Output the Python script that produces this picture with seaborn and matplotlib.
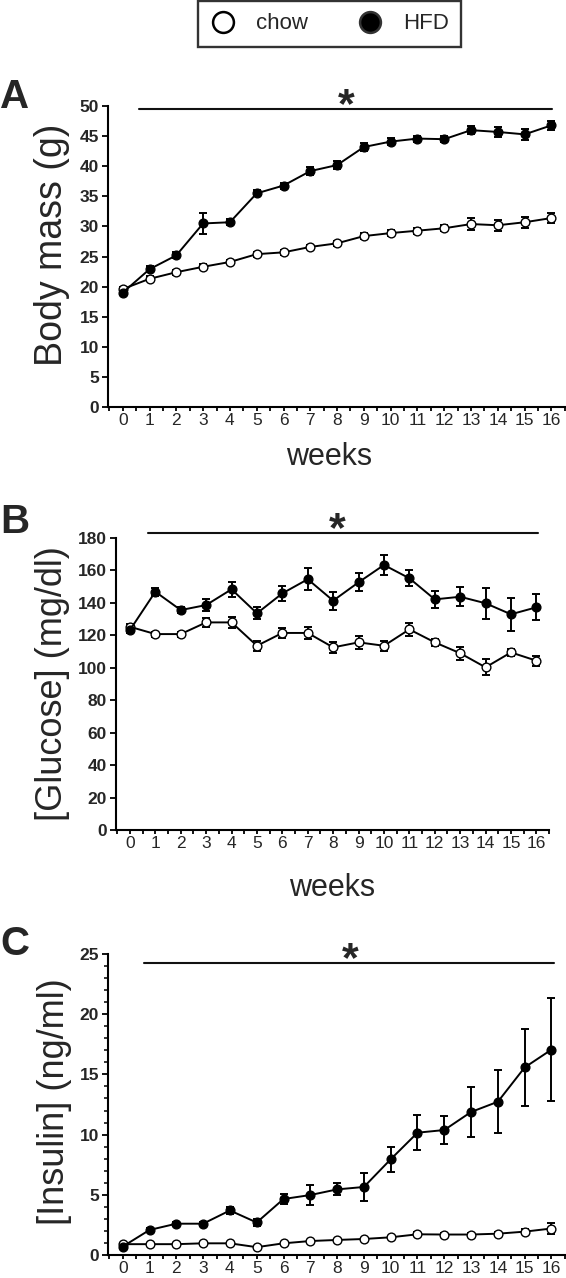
import numpy as np
import pandas as pd
import seaborn as sns
import matplotlib.pyplot as plt
from matplotlib.lines import Line2D

# weeks on diet
weeks = list(range(17))

# body mass (g), mean and SEM
mass_chow = [19.6, 21.3, 22.4, 23.3, 24.1, 25.4, 25.7, 26.6, 27.2, 28.4, 28.9, 29.3, 29.7, 30.4, 30.2, 30.7, 31.4]
mass_chow_sem = [0.4, 0.4, 0.4, 0.4, 0.4, 0.4, 0.4, 0.4, 0.4, 0.5, 0.5, 0.5, 0.5, 1.0, 0.9, 0.9, 0.9]
mass_hfd = [19.0, 22.9, 25.2, 30.5, 30.7, 35.5, 36.8, 39.2, 40.2, 43.2, 44.1, 44.6, 44.5, 46.0, 45.7, 45.3, 46.8]
mass_hfd_sem = [0.4, 0.5, 0.5, 1.8, 0.5, 0.5, 0.5, 0.6, 0.7, 0.7, 0.6, 0.5, 0.5, 0.7, 0.8, 0.9, 0.8]

# glucose (mg/dl)
glucose_chow = [125.3, 120.8, 120.8, 128.0, 128.0, 113.6, 121.5, 121.5, 112.6, 115.7, 113.6, 123.7, 115.7, 109.0, 100.3, 109.5, 104.4]
glucose_chow_sem = [2, 1.5, 1.5, 3, 3.5, 3, 3, 3.5, 3.5, 4, 3, 4, 2, 4, 5, 2, 3]
glucose_hfd = [123.3, 146.9, 135.6, 138.7, 148.4, 133.6, 145.9, 154.6, 141.4, 152.7, 163.4, 155.2, 142.2, 143.8, 139.8, 133.0, 137.3]
glucose_hfd_sem = [2, 2.5, 2, 3.5, 4.7, 3.7, 4.5, 6.8, 5.6, 5.6, 6.2, 4.9, 5.4, 5.75, 9.45, 10.1, 8.0]

# insulin (ng/ml)
insulin_chow = [0.9, 0.9, 0.9, 0.97, 0.97, 0.65, 0.97, 1.16, 1.25, 1.33, 1.47, 1.72, 1.7, 1.7, 1.77, 1.94, 2.2]
insulin_chow_sem = [0.1, 0.1, 0.1, 0.1, 0.1, 0.1, 0.1, 0.1, 0.1, 0.1, 0.1, 0.15, 0.1, 0.15, 0.15, 0.2, 0.45]
insulin_hfd = [0.7, 2.08, 2.6, 2.6, 3.7, 2.7, 4.65, 4.98, 5.45, 5.65, 7.95, 10.16, 10.38, 11.88, 12.73, 15.58, 17.06]
insulin_hfd_sem = [0.1, 0.2, 0.15, 0.15, 0.3, 0.25, 0.45, 0.83, 0.5, 1.13, 1.05, 1.45, 1.16, 2.1, 2.6, 3.23, 4.25]

mass_ticks = [0, 5, 10, 15, 20, 25, 30, 35, 40, 45, 50]
glucose_ticks = [0, 20, 40, 60, 80, 100, 120, 140, 160, 180]
insulin_ticks = [0, 5, 10, 15, 20, 25]

sns.set_style("ticks")
plt.rcParams['font.family'] = ['Liberation Sans', 'DejaVu Sans']

fig = plt.figure(figsize=(5.66, 12.78), dpi=100)


def panel(ax, chow, chow_sem, hfd, hfd_sem, yticks, ylabel, sig, star_x):
    df = pd.DataFrame({'week': weeks * 2,
                       'value': chow + hfd,
                       'group': ['chow'] * len(weeks) + ['HFD'] * len(weeks)})
    ax.errorbar(weeks, chow, yerr=chow_sem, fmt='none', ecolor='black',
                elinewidth=1.4, capsize=2.6, capthick=1.4, zorder=2)
    ax.errorbar(weeks, hfd, yerr=hfd_sem, fmt='none', ecolor='black',
                elinewidth=1.4, capsize=2.6, capthick=1.4, zorder=2)
    sns.lineplot(data=df[df.group == 'chow'], x='week', y='value', ax=ax,
                 color='black', linewidth=1.4, marker='o', markersize=6.3,
                 markerfacecolor='white', markeredgecolor='black',
                 markeredgewidth=1.0, zorder=3)
    sns.lineplot(data=df[df.group == 'HFD'], x='week', y='value', ax=ax,
                 color='black', linewidth=1.4, marker='o', markersize=6.3,
                 markerfacecolor='black', markeredgecolor='black',
                 markeredgewidth=1.0, zorder=4)
    ax.set_xlim(-0.55, 16.5)
    ax.set_ylim(yticks[0], yticks[-1])
    ax.set_xticks(weeks)
    ax.set_xticklabels([str(w) for w in weeks], fontsize=12.5)
    ax.set_xticks(np.arange(-0.5, 16.6, 1), minor=True)
    ax.set_yticks(yticks)
    ax.set_yticklabels([str(t) for t in yticks], fontsize=12.5, fontweight='bold')
    ax.tick_params(axis='x', which='both', length=3, width=1.3, pad=1.5, color='black')
    ax.tick_params(axis='y', which='major', length=4, width=1.3, pad=2.5, color='black')
    ax.tick_params(axis='y', which='minor', length=3, width=1.1, color='black')
    for s in ['left', 'bottom']:
        ax.spines[s].set_linewidth(1.5)
        ax.spines[s].set_color('black')
    sns.despine(ax=ax)
    ax.set_ylabel(ylabel, fontsize=26)
    ax.yaxis.label.set_va('center')
    ax.set_xlabel('')
    # significance bar
    ax.plot([sig[0], sig[1]], [sig[2], sig[2]], color='#111111', lw=1.5, clip_on=False)
    ax.annotate('*', xy=(star_x, sig[2]), xytext=(0, -5.7), textcoords='offset points',
                ha='center', va='baseline', fontsize=31, fontweight='bold',
                annotation_clip=False)


# A: body mass
axA = fig.add_axes([0.1908, 0.6815, 0.8072, 0.2355])
panel(axA, mass_chow, mass_chow_sem, mass_hfd, mass_hfd_sem, mass_ticks,
      'Body mass (g)', (0.6, 16.03, 49.5), 8.35)
axA.yaxis.label.set_fontsize(27)
axA.yaxis.set_label_coords(-0.1226, 0.538)
axA.set_xlabel('weeks', fontsize=22)
axA.xaxis.label.set_va('baseline')
axA.xaxis.set_label_coords(0.4848, -0.1927)

# B: glucose
axB = fig.add_axes([0.2049, 0.3505, 0.7652, 0.2285])
panel(axB, glucose_chow, glucose_chow_sem, glucose_hfd, glucose_hfd_sem, glucose_ticks,
      '[Glucose] (mg/dl)', (0.71, 16.06, 183.1), 8.17)
axB.yaxis.set_label_coords(-0.1455, 0.502)
axB.set_xlabel('weeks', fontsize=22)
axB.xaxis.label.set_va('baseline')
axB.xaxis.set_label_coords(0.4987, -0.226)

# C: insulin
axC = fig.add_axes([0.1908, 0.018, 0.8072, 0.2355])
panel(axC, insulin_chow, insulin_chow_sem, insulin_hfd, insulin_hfd_sem, insulin_ticks,
      '[Insulin] (ng/ml)', (0.78, 16.1, 24.23), 8.48)
axC.set_yticks(np.arange(0, 25.1, 1), minor=True)
axC.yaxis.set_label_coords(-0.118, 0.508)

# panel letters
for letter, y in [('A', 1 - 108.5 / 1278), ('B', 1 - 533 / 1278), ('C', 1 - 955 / 1278)]:
    fig.text(0.0, y, letter, fontsize=29, fontweight='bold', ha='left', va='baseline')

# legend
handles = [Line2D([], [], linestyle='none', marker='o', markersize=15,
                  markerfacecolor='white', markeredgecolor='black', markeredgewidth=1.8),
           Line2D([], [], linestyle='none', marker='o', markersize=15,
                  markerfacecolor='black', markeredgecolor='#333333', markeredgewidth=1.8)]
leg = fig.legend(handles, ['chow', 'HFD'], loc='upper center',
                 bbox_to_anchor=(329.5 / 566, 1.0), ncol=2, fontsize=16,
                 frameon=True, fancybox=False, edgecolor='black',
                 handlelength=1.15, handletextpad=0.9, columnspacing=2.25,
                 borderpad=0.55, borderaxespad=0.05)
leg.get_frame().set_linewidth(1.7)

fig.savefig('out.png', dpi=100)
